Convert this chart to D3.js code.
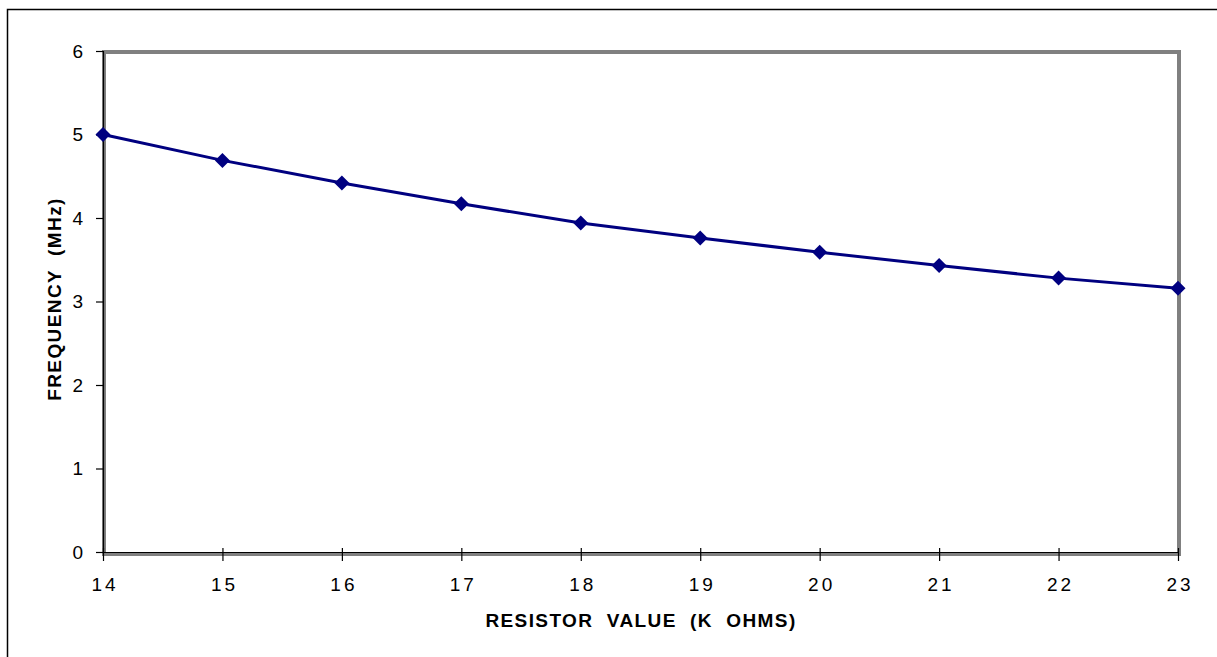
<!DOCTYPE html>
<html lang="en">
<head>
<meta charset="UTF-8">
<title>Frequency vs resistor</title>
<script src="https://cdn.jsdelivr.net/npm/d3@7"></script>
<style>
    body { margin: 0; background: #fff; }
    svg text { font-family: "Liberation Sans", Arial, sans-serif; fill: #000; }
</style>
</head>
<body>
<script>
// data
const resistorK = [14, 15, 16, 17, 18, 19, 20, 21, 22, 23];
const freqMHz = [5.0, 4.69, 4.42, 4.17, 3.94, 3.76, 3.59, 3.43, 3.28, 3.16];
const yTicks = [0, 1, 2, 3, 4, 5, 6];

const w = 1217, h = 657;
const pLeft = 103, pRight = 1178, pTop = 51, pBottom = 552;
const nb = "\u00a0";

const svg = d3.select("body").append("svg")
    .attr("width", w).attr("height", h);

// outer frame (runs off to the right and bottom)
svg.append("rect")
    .attr("x", 7.5).attr("y", 9.5)
    .attr("width", 1400).attr("height", 800)
    .attr("fill", "none").attr("stroke", "#000").attr("stroke-width", 1.5);

const x = d3.scaleLinear().domain([14, 23]).range([pLeft, pRight]);
const y = d3.scaleLinear().domain([0, 6]).range([pBottom, pTop]);

// gray plot area border
svg.append("rect")
    .attr("x", pLeft + 1).attr("y", pTop + 1)
    .attr("width", pRight - pLeft).attr("height", pBottom - pTop + 1)
    .attr("fill", "none").attr("stroke", "#808080").attr("stroke-width", 4);

// y axis
const yAxis = svg.append("g")
    .attr("transform", "translate(" + pLeft + ",0)")
    .call(d3.axisLeft(y).tickValues(yTicks).tickFormat(d3.format("d")).tickSize(7).tickPadding(13));
yAxis.select(".domain").attr("stroke", "#000").attr("stroke-width", 1.2);
yAxis.selectAll("line").attr("stroke", "#000").attr("stroke-width", 1.2);
yAxis.selectAll("text").style("font-size", "19px").attr("fill", "#000");

// x axis, ticks crossing the axis line
const xAxis = svg.append("g")
    .attr("transform", "translate(0," + pBottom + ")")
    .call(d3.axisBottom(x).tickValues(resistorK).tickFormat(d3.format("d"))
        .tickSizeInner(9).tickSizeOuter(0).tickPadding(17));
xAxis.select(".domain").attr("stroke", "#000").attr("stroke-width", 1.2);
xAxis.selectAll(".tick line").attr("y1", -4).attr("stroke", "#000").attr("stroke-width", 1.2);
xAxis.selectAll("text").style("font-size", "19px").style("letter-spacing", "3px")
    .attr("dx", "1.5px").attr("fill", "#000");

// series line
const pts = resistorK.map((k, i) => ({ k: k, f: freqMHz[i] }));
svg.append("path")
    .datum(pts)
    .attr("fill", "none")
    .attr("stroke", "#000080")
    .attr("stroke-width", 3)
    .attr("d", d3.line().x(d => x(d.k)).y(d => y(d.f)));

// diamond markers
svg.selectAll(".marker")
    .data(pts)
    .enter()
    .append("path")
    .attr("class", "marker")
    .attr("transform", d => "translate(" + x(d.k) + "," + y(d.f) + ")")
    .attr("d", "M0,-7.5L7.5,0L0,7.5L-7.5,0Z")
    .attr("fill", "#000080");

// axis titles
svg.append("text")
    .attr("x", 641).attr("y", 627)
    .attr("text-anchor", "middle")
    .style("font-size", "19px").style("font-weight", "bold")
    .style("letter-spacing", "1.4px")
    .text(["RESISTOR", "VALUE", "(K", "OHMS)"].join(" " + nb));

svg.append("text")
    .attr("transform", "translate(61,299) rotate(-90)")
    .attr("text-anchor", "middle")
    .style("font-size", "19px").style("font-weight", "bold")
    .style("letter-spacing", "1.4px")
    .text("FREQUENCY " + nb + "(MHz)");
</script>
</body>
</html>
